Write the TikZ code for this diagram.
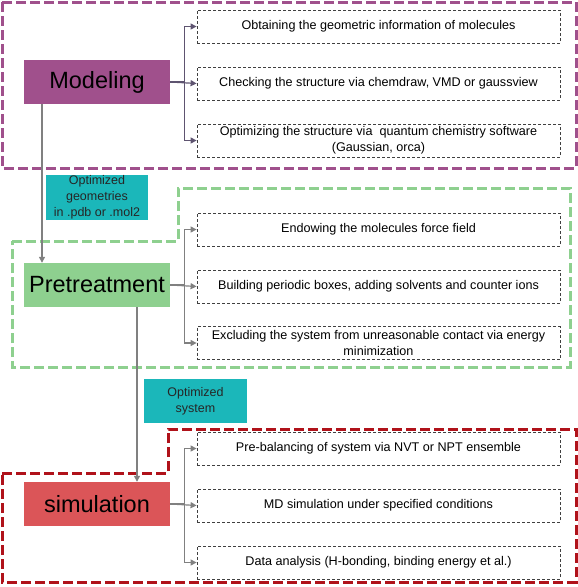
\documentclass[tikz,border=0pt]{standalone}
\usepackage{fontspec}
\setmainfont{Liberation Sans}
\usetikzlibrary{arrows.meta,calc}
\definecolor{modc}{HTML}{A0508C}
\definecolor{prec}{HTML}{8ED08F}
\definecolor{simc}{HTML}{DB5558}
\definecolor{tealc}{HTML}{1BB7BA}
\definecolor{greenline}{HTML}{8ED08F}
\definecolor{redline}{HTML}{B0121A}
\definecolor{modarrow}{HTML}{5E5470}
\definecolor{grayarrow}{HTML}{808080}
\begin{document}
\begin{tikzpicture}[x=1pt,y=-1pt,
  stage/.style={draw=none,minimum width=146pt,minimum height=44pt,inner sep=0pt,font=\fontsize{23.5}{28}\selectfont},
  taskbox/.style={draw=black!75,dashed,dash pattern=on 3pt off 2pt,line width=0.8pt,minimum width=363pt,minimum height=33pt,inner sep=1pt,align=center,font=\fontsize{12.6}{16}\selectfont},
  label/.style={fill=tealc,inner sep=0pt,align=center,text=black!85,font=\fontsize{12.5}{16}\selectfont},
  outline/.style={line width=3pt,dash pattern=on 10pt off 4pt},
  conn/.style={line width=1.2pt,-{Triangle[length=6pt,width=6pt]}}
]
\useasboundingbox (0,0) rectangle (578,587);
% outlines
\draw[outline,modc] (2,2) rectangle (576,168);
\draw[outline,greenline] (12,241) -- (178,241) -- (178,188) -- (570,188) -- (570,367) -- (12,367) -- cycle;
\draw[outline,redline] (2,473) -- (168,473) -- (168,429) -- (576,429) -- (576,582) -- (2,582) -- cycle;
% stages
\node[stage,fill=modc] (mod) at (97,82) {Modeling};
\node[stage,fill=prec] (pre) at (97,285) {Pretreatment};
\node[stage,fill=simc] (sim) at (97,504) {simulation};
% task boxes
\node[taskbox] (m1) at (378.5,26.5) {Obtaining the geometric information of molecules};
\node[taskbox] (m2) at (378.5,83.5) {Checking the structure via chemdraw, VMD or gaussview};
\node[taskbox] (m3) at (378.5,140.5) {Optimizing the structure via\ \ quantum chemistry software\\(Gaussian, orca)};
\node[taskbox] (p1) at (378.5,229.5) {Endowing the molecules force field};
\node[taskbox] (p2) at (378.5,286.5) {Building periodic boxes, adding solvents and counter ions};
\node[taskbox] (p3) at (378.5,343) {Excluding the system from unreasonable contact via energy\\minimization};
\node[taskbox] (s1) at (378.5,448.5) {Pre-balancing of system via NVT or NPT ensemble};
\node[taskbox] (s2) at (378.5,505.5) {MD simulation under specified conditions};
\node[taskbox] (s3) at (378.5,562.5) {Data analysis (H-bonding, binding energy et al.)};
% labels
\node[label,minimum width=102pt,minimum height=45pt] (l1) at (97,197.5) {Optimized\\geometries\\in .pdb or .mol2};
\node[label,minimum width=103pt,minimum height=44pt] (l2) at (195.5,401) {Optimized\\system};
% connectors
\draw[conn,modarrow] (mod.east) -- (m2.west);
\draw[conn,modarrow] (mod.east) -- ++(14,0) |- (m1.west);
\draw[conn,modarrow] (mod.east) -- ++(14,0) |- (m3.west);
\draw[conn,grayarrow] (pre.east) -- (p2.west);
\draw[conn,grayarrow] (pre.east) -- ++(14,0) |- (p1.west);
\draw[conn,grayarrow] (pre.east) -- ++(14,0) |- (p3.west);
\draw[conn,grayarrow] (sim.east) -- (s2.west);
\draw[conn,grayarrow] (sim.east) -- ++(14,0) |- (s1.west);
\draw[conn,grayarrow] (sim.east) -- ++(14,0) |- (s3.west);
\draw[conn,grayarrow] ([xshift=-55pt]mod.south) -- ([xshift=-55pt]pre.north);
\draw[conn,grayarrow] ([xshift=40pt]pre.south) -- ([xshift=40pt]sim.north);
\end{tikzpicture}
\end{document}
